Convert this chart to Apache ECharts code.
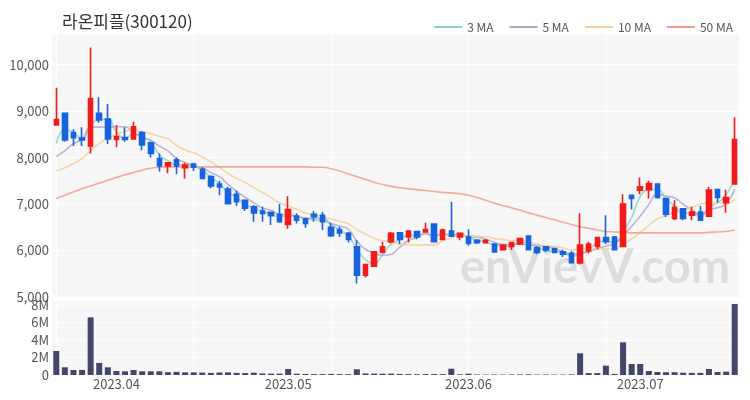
<!DOCTYPE html>
<html>
<head>
<meta charset="utf-8">
<script src="https://cdn.jsdelivr.net/npm/echarts@6/dist/echarts.min.js"></script>
<style>
html,body{margin:0;padding:0;background:#fff;}
#chart{width:750px;height:400px;}
</style>
</head>
<body>
<div id="chart"></div>
<script>
const dates = [
'2023-03-23','2023-03-24','2023-03-27','2023-03-28','2023-03-29','2023-03-30','2023-03-31',
'2023-04-03','2023-04-04','2023-04-05','2023-04-06','2023-04-07','2023-04-10','2023-04-11','2023-04-12','2023-04-13','2023-04-14','2023-04-17','2023-04-18','2023-04-19','2023-04-20','2023-04-21','2023-04-24','2023-04-25','2023-04-26','2023-04-27','2023-04-28',
'2023-05-02','2023-05-03','2023-05-04','2023-05-08','2023-05-09','2023-05-10','2023-05-11','2023-05-12','2023-05-15','2023-05-16','2023-05-17','2023-05-18','2023-05-19','2023-05-22','2023-05-23','2023-05-24','2023-05-25','2023-05-26','2023-05-29','2023-05-30','2023-05-31',
'2023-06-01','2023-06-02','2023-06-05','2023-06-07','2023-06-08','2023-06-09','2023-06-12','2023-06-13','2023-06-14','2023-06-15','2023-06-16','2023-06-19','2023-06-20','2023-06-21','2023-06-22','2023-06-23','2023-06-26','2023-06-27','2023-06-28','2023-06-29',
'2023-07-03','2023-07-04','2023-07-05','2023-07-06','2023-07-07','2023-07-10','2023-07-11','2023-07-12','2023-07-13','2023-07-14','2023-07-17','2023-07-18'
];
const opens = [8700,8950,8540,8420,8250,8950,8830,8390,8430,8400,8540,8320,7980,7820,7950,7780,7860,7750,7590,7430,
7320,7210,7080,6940,6850,6820,6780,6560,6740,6680,6780,6760,6500,6450,6370,6080,5470,5660,5960,6190,
6380,6290,6410,6400,6570,6240,6420,6290,6290,6220,6170,6140,6020,6080,6140,6310,6060,6080,6040,5970,
5940,5730,5990,6090,6280,6290,6090,7190,7300,7310,7430,7120,6690,6900,6760,6830,6740,7310,7030,7430];
const closes = [8820,8380,8430,8380,9270,8810,8400,8450,8390,8660,8270,8090,7820,7890,7820,7840,7790,7550,7390,7370,
7010,7050,6910,6810,6800,6750,6620,6880,6650,6580,6730,6620,6320,6380,6240,5470,5700,5970,6080,6370,
6240,6420,6290,6450,6190,6440,6310,6370,6150,6170,6220,5970,6120,6170,6260,6020,5960,6010,5960,5920,
5740,6120,6140,6280,6190,6020,7000,7120,7370,7440,7140,6780,6930,6690,6830,6650,7300,7140,7140,8390];
const lows = [8700,8340,8250,8250,8090,8750,8290,8220,8340,8400,8160,8000,7700,7660,7640,7550,7710,7530,7340,7190,
7000,6960,6850,6620,6620,6550,6600,6470,6580,6490,6620,6440,6290,6290,6170,5290,5420,5650,5940,6150,
6140,6170,6240,6380,6170,6220,6290,6220,6100,6140,6160,5960,6010,6010,6120,6010,5920,5970,5940,5860,
5730,5700,5940,6020,6140,6020,6080,6880,7210,7120,7120,6720,6650,6650,6650,6640,6720,7030,6810,7430];
const highs = [9500,8960,8610,8650,10370,9300,9150,8700,8650,8770,8570,8340,8090,7900,8000,7890,7890,7790,7620,7500,
7370,7290,7100,6980,6940,6840,7000,7170,6800,6690,6850,6830,6600,6510,6400,6220,5720,5990,6190,6400,
6400,6420,6410,6600,6580,6470,7050,6390,6460,6240,6240,6150,6130,6190,6270,6310,6090,6090,6060,6020,
5990,6800,6190,6290,6760,6310,7210,7190,7570,7500,7430,7120,7080,6900,6940,6960,7370,7310,7310,8870];
const ma3 = [8300,8600,8543,8397,8693,8820,8827,8553,8413,8500,8440,8340,8060,7933,7843,7850,7817,7727,7577,7437,
7257,7143,6990,6923,6840,6787,6723,6750,6717,6703,6653,6643,6557,6440,6313,6030,5803,5713,5917,6140,
6230,6343,6317,6387,6310,6360,6313,6373,6277,6230,6180,6120,6103,6087,6183,6150,6080,5997,5977,5963,
5873,5927,6000,6180,6203,6163,6403,6713,7163,7310,7317,7120,6950,6800,6817,6723,6927,7030,7193,7557];
const ma5 = [8020,8150,8300,8390,8656,8654,8658,8662,8664,8542,8434,8372,8246,8146,7978,7892,7832,7778,7678,7588,
7422,7274,7146,7030,6916,6864,6778,6772,6740,6696,6692,6692,6580,6526,6458,6206,6022,5952,5892,5918,
6072,6216,6280,6354,6318,6358,6336,6352,6292,6288,6244,6176,6126,6130,6148,6108,6106,6084,6042,5974,
5918,5950,5976,6040,6094,6150,6326,6522,6740,6990,7214,7170,7132,6996,6874,6776,6880,6922,7012,7324];
const ma10 = [7710,7780,7870,7980,8150,8300,8420,8500,8560,8599,8544,8515,8454,8405,8260,8163,8102,8012,7912,7783,
7657,7553,7462,7354,7252,7143,7026,6959,6885,6806,6778,6735,6676,6633,6577,6449,6357,6266,6209,6188,
6139,6119,6116,6123,6118,6215,6276,6316,6323,6303,6301,6256,6239,6211,6218,6176,6141,6105,6086,6061,
6013,6028,6030,6041,6034,6034,6138,6249,6390,6542,6682,6748,6827,6868,6932,6995,7025,7027,7004,7100];
const ma50 = [7120,7190,7260,7330,7390,7450,7510,7570,7630,7680,7730,7770,7790,7800,7800,7800,7800,7800,7800,7800,
7800,7800,7800,7800,7800,7800,7800,7800,7800,7800,7790,7790,7760,7710,7650,7590,7530,7470,7420,7380,
7350,7330,7310,7290,7270,7250,7240,7220,7190,7140,7080,7020,6970,6920,6870,6810,6760,6710,6660,6610,
6560,6510,6480,6440,6410,6400,6390,6380,6380,6380,6380,6380,6380,6380,6380,6380,6390,6400,6410,6440];
const volumes = [2740000,880000,570000,570000,6590000,1380000,880000,460000,420000,570000,420000,420000,420000,320000,360000,300000,300000,280000,240000,280000,
300000,240000,220000,260000,180000,160000,160000,690000,140000,120000,100000,100000,120000,100000,90000,650000,180000,160000,150000,160000,
120000,100000,90000,100000,110000,100000,720000,80000,150000,60000,50000,60000,50000,60000,70000,80000,50000,60000,50000,50000,
70000,2480000,220000,220000,1070000,120000,3730000,1260000,1260000,460000,340000,320000,320000,260000,240000,240000,690000,340000,380000,8110000];
const priceTicks = {min: 5000, max: 10680, step: 1000};
const volumeTicks = {min: 0, max: 8570000, step: 2000000};
const maNames = ['3 MA','5 MA','10 MA','50 MA'];

const UP = '#f21b1b', DOWN = '#1763e0';
const kData = dates.map((d, i) => [opens[i], closes[i], lows[i], highs[i]]);
const maColors = ['#86d6c9', '#b2a8cc', '#f2cf98', '#f59c8c'];
const maData = [ma3, ma5, ma10, ma50];

const chart = echarts.init(document.getElementById('chart'), null, {renderer: 'canvas'});
const font = "'Noto Sans CJK KR', 'Noto Sans', sans-serif";
const monthStart = (i) => i > 0 && dates[i].slice(5, 7) !== dates[i - 1].slice(5, 7);

const option = {
  animation: false,
  backgroundColor: '#ffffff',
  textStyle: {fontFamily: font},
  title: {
    text: '라온피플(300120)',
    left: 57, top: 8,
    textStyle: {fontSize: 17, fontWeight: 'normal', color: '#333', fontFamily: font}
  },
  legend: {
    data: maNames,
    right: 12, top: 16,
    icon: 'rect', itemWidth: 28, itemHeight: 2, itemGap: 16,
    textStyle: {fontSize: 12, color: '#555', fontFamily: font}
  },
  graphic: [{
    type: 'text', left: 460, top: 244, z: 1, silent: true,
    style: {text: 'enVievV.com', font: "bold 47px Lato, 'Noto Sans', sans-serif", fill: 'rgba(200,200,200,0.55)'}
  }],
  grid: [
    {left: 52, right: 11, top: 33, height: 264, show: true, backgroundColor: '#f7f7f7', borderWidth: 0},
    {left: 52, right: 11, top: 300, height: 75, show: true, backgroundColor: '#f7f7f7', borderWidth: 0}
  ],
  xAxis: [
    {type: 'category', gridIndex: 0, data: dates, boundaryGap: true,
     axisLine: {show: false}, axisTick: {show: false}, axisLabel: {show: false},
     splitLine: {show: true, interval: 15, alignWithLabel: true, lineStyle: {color: '#ffffff', width: 1}}},
    {type: 'category', gridIndex: 1, data: dates, boundaryGap: true,
     axisLine: {show: false}, axisTick: {show: false},
     axisLabel: {interval: (i) => monthStart(i), formatter: (v) => v.slice(0, 4) + '.' + v.slice(5, 7),
                 color: '#555', fontSize: 13, margin: 3, fontFamily: font},
     splitLine: {show: true, interval: 15, alignWithLabel: true, lineStyle: {color: '#ffffff', width: 1}}}
  ],
  yAxis: [
    {type: 'value', gridIndex: 0, min: priceTicks.min, max: priceTicks.max, interval: priceTicks.step,
     axisLine: {show: false}, axisTick: {show: false},
     axisLabel: {color: '#555', fontSize: 13, margin: 3, showMaxLabel: false, fontFamily: font,
                 formatter: (v) => v.toLocaleString('en-US')},
     splitLine: {lineStyle: {color: '#ffffff', width: 1}}},
    {type: 'value', gridIndex: 1, min: volumeTicks.min, max: volumeTicks.max, interval: volumeTicks.step,
     axisLine: {show: false}, axisTick: {show: false},
     axisLabel: {color: '#555', fontSize: 13, margin: 3, showMaxLabel: false, fontFamily: font,
                 formatter: (v) => v === 0 ? '0' : (v / 1e6) + 'M'},
     splitLine: {lineStyle: {color: '#ffffff', width: 1}}}
  ],
  series: [
    ...maNames.map((n, k) => ({
      type: 'line', name: n, xAxisIndex: 0, yAxisIndex: 0, data: maData[k], symbol: 'none', smooth: true, z: 2,
      lineStyle: {color: maColors[k], width: 1.6, opacity: 0.85}, itemStyle: {color: maColors[k]}
    })),
    {type: 'candlestick', name: 'price', xAxisIndex: 0, yAxisIndex: 0, data: kData, barWidth: 5, z: 3,
     itemStyle: {color: UP, color0: DOWN, borderColor: UP, borderColor0: DOWN, borderWidth: 1.6}},
    {type: 'bar', name: 'volume', xAxisIndex: 1, yAxisIndex: 1, data: volumes, barWidth: 6,
     itemStyle: {color: '#44466b'}}
  ]
};
chart.setOption(option);
</script>
</body>
</html>
